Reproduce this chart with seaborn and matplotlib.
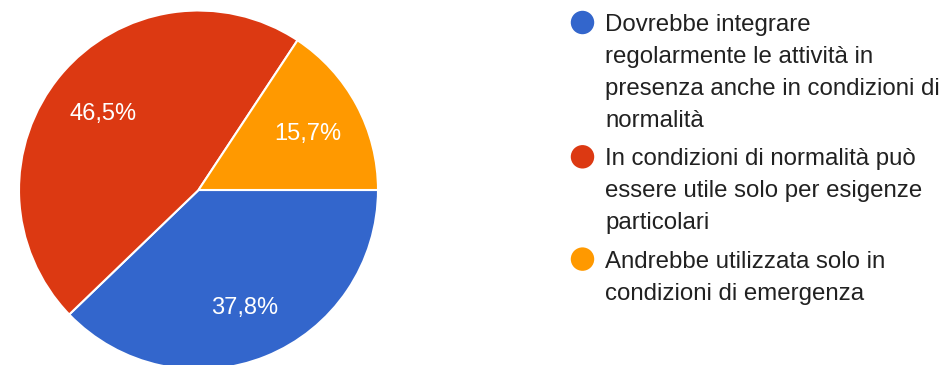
import matplotlib
matplotlib.use('Agg')
import matplotlib.pyplot as plt
import matplotlib.transforms as mtransforms
import seaborn as sns

# ── data ─────────────────────────────────────────────────────────────────────
answers = [
    ['Dovrebbe integrare', 'regolarmente le attività in',
     'presenza anche in condizioni di', 'normalità'],
    ['In condizioni di normalità può', 'essere utile solo per esigenze',
     'particolari'],
    ['Andrebbe utilizzata solo in', 'condizioni di emergenza'],
]
shares = [37.8, 46.5, 15.7]
pct_labels = ['37,8%', '46,5%', '15,7%']
colors = ['#3366CC', '#DC3912', '#FF9900']

# ── figure ───────────────────────────────────────────────────────────────────
sns.set_theme(style='white')
plt.rcParams['font.family'] = ['Liberation Sans', 'DejaVu Sans']

W, H = 945, 365
fig = plt.figure(figsize=(W / 100, H / 100), dpi=100)
palette = sns.color_palette(colors)

# pie: centre (198.5, 190) px, radius 179.5 px
cx, cy, r = 198.5, 190, 179.5
ax = fig.add_axes([(cx - r) / W, (H - cy - r) / H, 2 * r / W, 2 * r / H])
wedges, _, autotexts = ax.pie(
    shares, colors=palette, startangle=0, counterclock=False,
    autopct='%1.1f%%', pctdistance=0.69,
    wedgeprops=dict(edgecolor='white', linewidth=1.5),
)
# labels sit a few pixels lower than the plain centre position
shift = mtransforms.offset_copy(ax.transData, fig=fig, x=0, y=-3, units='dots')
for t, lab in zip(autotexts, pct_labels):
    t.set_text(lab)
    t.set_color('white')
    t.set_fontsize(17)
    t.set_transform(shift)
ax.set_xlim(-1, 1)
ax.set_ylim(-1, 1)
ax.set_aspect('equal')
ax.axis('off')

# legend drawn in pixel coordinates
lax = fig.add_axes([0, 0, 1, 1])
lax.set_xlim(0, W)
lax.set_ylim(H, 0)
lax.axis('off')

y = 22.5
for lines, col in zip(answers, palette):
    lax.scatter([582.5], [y], s=285, color=col, edgecolors='none')
    for k, line in enumerate(lines):
        lax.text(605, y + 8.6 + 32 * k, line, fontsize=17.3,
                 color='#212121', ha='left', va='baseline')
    y += 32 * len(lines) + 6.3

fig.savefig('out.png', dpi=100)
